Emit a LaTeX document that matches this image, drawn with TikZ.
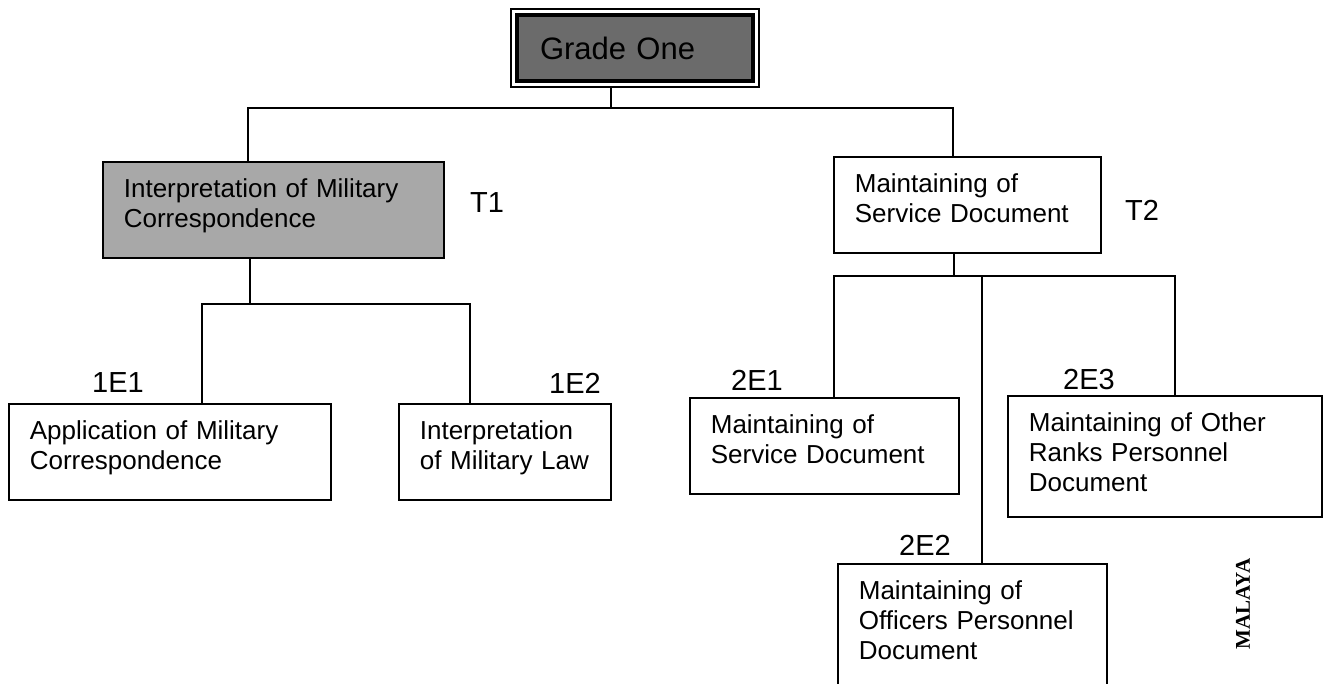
\documentclass[tikz,border=0pt]{standalone}
\usepackage{fontspec}
\setmainfont{Liberation Sans}
\newfontfamily\stampfont{Liberation Serif}

\begin{document}
\begin{tikzpicture}[x=1pt,y=-1pt,line width=1.4pt,
    unit/.style={draw,line width=1.7pt,anchor=north west,align=left,
      inner xsep=21pt,inner ysep=0pt,text height=36pt,
      font=\fontsize{26}{30}\selectfont},
    tag/.style={inner sep=0pt,font=\fontsize{29}{30}\selectfont}]
    \useasboundingbox (0,0) rectangle (1325,683);

    % grade box with double frame
    \node[draw,line width=1.2pt,minimum width=248pt,minimum height=78pt,inner sep=0pt] (gframe) at (635,48) {};
    \node[draw,line width=3.5pt,fill=black!58,minimum width=236pt,minimum height=66pt,inner sep=0pt,
      text width=190pt,align=left,font=\fontsize{31}{33}\selectfont] (grade) at (635,48) {Grade One};

    % topics
    \node[unit,fill=black!34,text width=299pt,text depth=60pt] (t1) at (102,161) {Interpretation of Military\\Correspondence};
    \node[unit,text width=225pt,text depth=60pt] (t2) at (833,156) {Maintaining of\\Service Document};

    % elements
    \node[unit,text width=280pt,text depth=60pt] (e11) at (8,403) {Application of Military\\Correspondence};
    \node[unit,text width=170pt,text depth=60pt] (e12) at (398,403) {Interpretation\\of Military Law};
    \node[unit,text width=227pt,text depth=60pt] (e21) at (689,397) {Maintaining of\\Service Document};
    \node[unit,text width=227pt,text depth=104pt] (e22) at (837,563) {Maintaining of\\Officers Personnel\\Document};
    \node[unit,text width=272pt,text depth=85pt] (e23) at (1007,395) {Maintaining of Other\\Ranks Personnel\\Document};

    % codes
    \node[tag] (t1code) at (487,203) {T1};
    \node[tag] (t2code) at (1142,210) {T2};
    \node[tag] (e11code) at (118,383) {1E1};
    \node[tag] (e12code) at (575,383) {1E2};
    \node[tag] (e21code) at (757,380) {2E1};
    \node[tag] (e22code) at (925,545) {2E2};
    \node[tag] (e23code) at (1089,380) {2E3};

    % connectors
    \coordinate (g-bar) at (611,108);
    \draw (g-bar |- gframe.south) -- (g-bar);
    \foreach \c/\x in {t1/248,t2/953}
      \coordinate (\c-bar) at (\x,108);
    \draw (t1-bar |- t1.north) -- (t1-bar) -- (t2-bar) -- (t2-bar |- t2.north);

    \coordinate (t1-drop) at (250,304);
    \draw (t1-drop |- t1.south) -- (t1-drop);
    \foreach \c/\x in {e11/202,e12/470}
      \coordinate (\c-bar) at (\x,304);
    \draw (e11-bar |- e11.north) -- (e11-bar) -- (e12-bar) -- (e12-bar |- e12.north);

    \coordinate (t2-drop) at (954,276);
    \draw (t2-drop |- t2.south) -- (t2-drop);
    \foreach \c/\x in {e21/834,e22/982,e23/1175}
      \coordinate (\c-bar) at (\x,276);
    \draw (e21-bar |- e21.north) -- (e21-bar) -- (e23-bar) -- (e23-bar |- e23.north);
    \draw (e22-bar) -- (e22-bar |- e22.north);

    \node[rotate=90,inner sep=0pt,font=\stampfont\bfseries\fontsize{21}{21}\selectfont] (stamp) at (1243,604) {MALAYA};
\end{tikzpicture}
\end{document}
